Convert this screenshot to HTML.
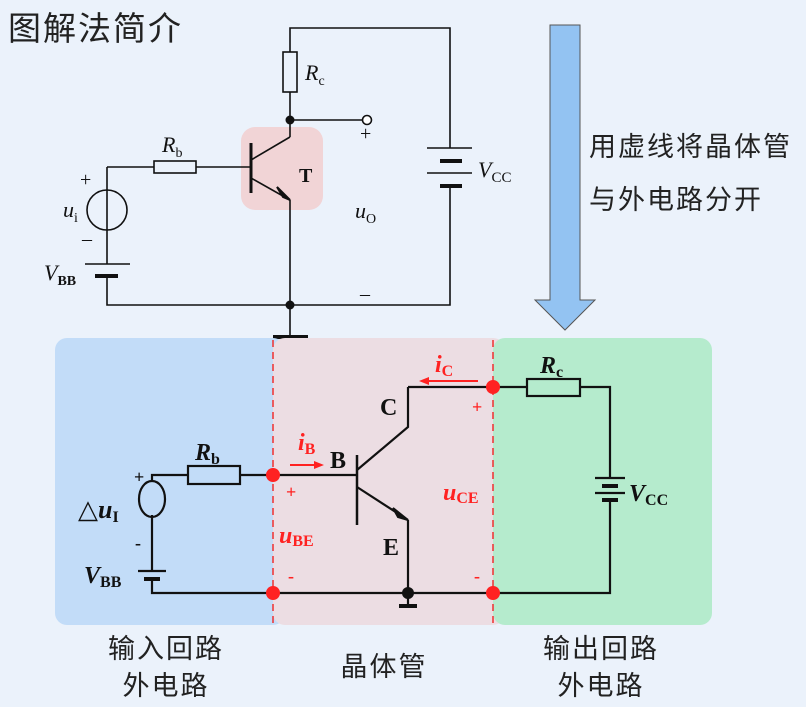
<!DOCTYPE html><html><head><meta charset="utf-8"><style>
html,body{margin:0;padding:0;background:#ebf2fb;}
svg{display:block}
.cj{font-family:"Liberation Sans","Noto Sans CJK SC",sans-serif;}
.sf{font-family:"Liberation Serif",serif;}
</style></head><body>
<svg width="806" height="707" viewBox="0 0 806 707" xmlns="http://www.w3.org/2000/svg">
<rect width="806" height="707" fill="#ebf2fb"/>
<text x="8" y="40" class="cj" font-size="33" fill="#222" letter-spacing="2">图解法简介</text>
<!-- big arrow -->
<polygon points="550,25 580,25 580,300 595,300 565,330 535,300 550,300" fill="#93c3f2" stroke="#555" stroke-width="1"/>
<text x="589" y="156" class="cj" font-size="27" fill="#222" letter-spacing="2">用虚线将晶体管</text>
<text x="589" y="209" class="cj" font-size="27" fill="#222" letter-spacing="2">与外电路分开</text>

<!-- top circuit -->
<rect x="241" y="127" width="82" height="83" rx="14" fill="#f1d4d6"/>
<g stroke="#111" stroke-width="1.6" fill="none">
<polyline points="290,52 290,28 450,28 450,148"/>
<line x1="290" y1="92" x2="290" y2="137"/>
<line x1="290" y1="120" x2="363" y2="120"/>
<line x1="107" y1="167" x2="154" y2="167"/><line x1="196" y1="167" x2="251" y2="167"/>
<line x1="107" y1="167" x2="107" y2="190"/><line x1="107" y1="190" x2="107" y2="230"/>
<line x1="107" y1="230" x2="107" y2="264"/>
<polyline points="107,276 107,305 450,305 450,186"/>
<line x1="290" y1="200" x2="290" y2="335"/>
<line x1="251" y1="160" x2="290" y2="137"/>
<line x1="251" y1="178" x2="290" y2="200"/>
<rect x="154" y="161" width="42" height="12" fill="none"/>
<rect x="283" y="52" width="14" height="40" fill="none"/>
<circle cx="107" cy="210" r="20"/>
<circle cx="367" cy="120" r="4.5" fill="#fff"/>
<line x1="85" y1="264" x2="130" y2="264"/>
<line x1="427" y1="148" x2="472" y2="148"/>
<line x1="427" y1="173" x2="472" y2="173"/>
</g>
<line x1="251" y1="143" x2="251" y2="193" stroke="#111" stroke-width="3"/>
<polygon points="290,200 277,187 283,197" fill="#111" stroke="#111" stroke-width="2"/>
<line x1="95" y1="276" x2="118" y2="276" stroke="#111" stroke-width="4"/>
<line x1="440" y1="161" x2="462" y2="161" stroke="#111" stroke-width="4"/>
<line x1="440" y1="186" x2="462" y2="186" stroke="#111" stroke-width="4"/>
<line x1="273" y1="337" x2="308" y2="337" stroke="#111" stroke-width="4"/>
<circle cx="290" cy="120" r="4.5" fill="#111"/><circle cx="290" cy="305" r="4.5" fill="#111"/>
<g class="sf" fill="#111">
<text x="305" y="80" font-size="22" font-style="italic">R<tspan font-size="14" font-style="normal" dy="5">c</tspan></text>
<text x="162" y="152" font-size="22" font-style="italic">R<tspan font-size="14" font-style="normal" dy="5">b</tspan></text>
<text x="299" y="182" font-size="20" font-weight="bold">T</text>
<text x="63" y="217" font-size="22" font-style="italic">u<tspan font-size="14" font-style="normal" dy="5">i</tspan></text>
<text x="80" y="186" font-size="20">+</text>
<text x="82" y="245" font-size="20">–</text>
<text x="44" y="280" font-size="22" font-style="italic">V<tspan font-size="14" font-style="normal" font-weight="bold" dy="5">BB</tspan></text>
<text x="360" y="140" font-size="20">+</text>
<text x="355" y="218" font-size="22" font-style="italic">u<tspan font-size="14" font-style="normal" dy="5">O</tspan></text>
<text x="360" y="300" font-size="20">–</text>
<text x="478" y="177" font-size="22" font-style="italic">V<tspan font-size="15" font-style="normal" dy="5">CC</tspan></text>
</g>

<!-- bottom panels -->
<rect x="55" y="338" width="230" height="287" rx="12" fill="#c2dcf8"/>
<rect x="273" y="338" width="232" height="287" rx="12" fill="#ecdde3"/>
<rect x="493" y="338" width="219" height="287" rx="12" fill="#b5ebcd"/>
<g stroke="#111" stroke-width="2.2" fill="none">
<polyline points="152,482 152,475 188,475"/>
<line x1="240" y1="475" x2="357" y2="475"/>
<line x1="152" y1="515" x2="152" y2="571"/>
<polyline points="152,578 152,593 610,593 610,500"/>
<polyline points="610,478 610,387 580,387"/>
<line x1="527" y1="387" x2="408" y2="387"/>
<polyline points="408,387 408,427 357,470"/>
<line x1="357" y1="487" x2="408" y2="520"/>
<line x1="408" y1="520" x2="408" y2="605"/>
<rect x="188" y="466" width="52" height="18"/>
<rect x="527" y="379" width="53" height="17"/>
<ellipse cx="152" cy="499" rx="13" ry="18"/>
<line x1="138" y1="571" x2="166" y2="571"/>
<line x1="595" y1="478" x2="625" y2="478"/>
<line x1="595" y1="493" x2="625" y2="493"/>
</g>
<line x1="357" y1="455" x2="357" y2="525" stroke="#111" stroke-width="2.5"/>
<polygon points="408,520 393,508 398,517" fill="#111" stroke="#111" stroke-width="2"/>
<line x1="144" y1="579" x2="160" y2="579" stroke="#111" stroke-width="4"/>
<line x1="602" y1="486" x2="618" y2="486" stroke="#111" stroke-width="4"/>
<line x1="602" y1="500" x2="618" y2="500" stroke="#111" stroke-width="4"/>
<line x1="399" y1="606" x2="417" y2="606" stroke="#111" stroke-width="4"/>
<circle cx="408" cy="593" r="6" fill="#111"/>
<g stroke="#f03030" stroke-width="1.5" stroke-dasharray="7,5">
<line x1="273" y1="340" x2="273" y2="625"/><line x1="493" y1="340" x2="493" y2="625"/>
</g>
<g fill="#f22">
<circle cx="273" cy="475" r="7"/><circle cx="273" cy="593" r="7"/>
<circle cx="493" cy="387" r="7"/><circle cx="493" cy="593" r="7"/>
</g>
<g stroke="#f22" stroke-width="2"><line x1="290" y1="465" x2="320" y2="465"/><line x1="425" y1="381" x2="478" y2="381"/></g>
<polygon points="324,465 314,461 314,469" fill="#f22"/>
<polygon points="419,381 429,377 429,385" fill="#f22"/>
<g class="sf" font-weight="bold">
<text x="435" y="372" font-size="24" font-style="italic" fill="#f22">i<tspan font-size="16" font-style="normal" dy="4">C</tspan></text>
<text x="298" y="450" font-size="24" font-style="italic" fill="#f22">i<tspan font-size="16" font-style="normal" dy="4">B</tspan></text>
<text x="286" y="498" font-size="18" fill="#f22">+</text>
<text x="279" y="543" font-size="24" font-style="italic" fill="#f22">u<tspan font-size="16" font-style="normal" dy="3">BE</tspan></text>
<text x="288" y="582" font-size="18" fill="#f22">-</text>
<text x="472" y="413" font-size="18" fill="#f22">+</text>
<text x="443" y="500" font-size="24" font-style="italic" fill="#f22">u<tspan font-size="16" font-style="normal" dy="3">CE</tspan></text>
<text x="474" y="582" font-size="18" fill="#f22">-</text>
<text x="380" y="415" font-size="24" fill="#111">C</text>
<text x="330" y="468" font-size="24" fill="#111">B</text>
<text x="383" y="555" font-size="24" fill="#111">E</text>
<text x="195" y="460" font-size="24" font-style="italic" fill="#111">R<tspan font-size="16" font-style="normal" dy="4">b</tspan></text>
<text x="540" y="373" font-size="24" font-style="italic" fill="#111">R<tspan font-size="16" font-style="normal" dy="4">c</tspan></text>
<text x="134" y="483" font-size="18" fill="#111">+</text>
<text x="135" y="549" font-size="18" fill="#111">-</text>
<text x="78" y="518" font-size="26" font-style="italic" fill="#111"><tspan font-style="normal" font-weight="normal">△</tspan>u<tspan font-size="16" font-style="normal" dy="4">I</tspan></text>
<text x="84" y="583" font-size="24" font-style="italic" fill="#111">V<tspan font-size="16" font-style="normal" dy="4">BB</tspan></text>
<text x="629" y="501" font-size="24" font-style="italic" fill="#111">V<tspan font-size="16" font-style="normal" dy="4">CC</tspan></text>
</g>
<g class="cj" font-size="27" fill="#222" text-anchor="middle" letter-spacing="2">
<text x="166" y="658">输入回路</text><text x="166" y="695">外电路</text>
<text x="384" y="676">晶体管</text>
<text x="601" y="658">输出回路</text><text x="601" y="695">外电路</text>
</g>
</svg>
</body></html>
